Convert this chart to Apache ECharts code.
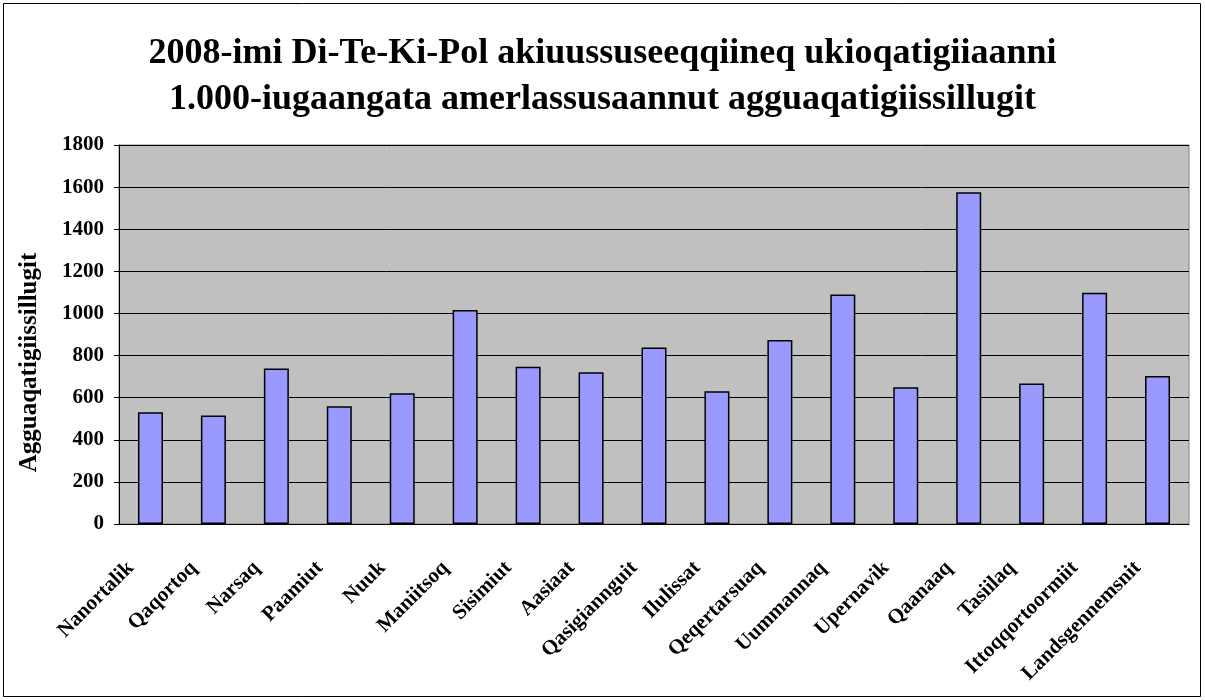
<!DOCTYPE html>
<html>
<head>
<meta charset="utf-8">
<script src="https://cdn.jsdelivr.net/npm/echarts@6/dist/echarts.min.js"></script>
<style>
  html, body { margin: 0; padding: 0; background: #fff; }
  #chart { width: 1205px; height: 700px; }
</style>
</head>
<body>
<div id="chart"></div>
<script>
// byer / kategorier
const places = [
  'Nanortalik', 'Qaqortoq', 'Narsaq', 'Paamiut', 'Nuuk', 'Maniitsoq',
  'Sisimiut', 'Aasiaat', 'Qasigiannguit', 'Ilulissat', 'Qeqertarsuaq',
  'Uummannaq', 'Upernavik', 'Qaanaaq', 'Tasiilaq', 'Ittoqqortoormiit',
  'Landsgennemsnit'
]
// agguaqatigiissillugit pr. 1.000
const rates = [531, 515, 738, 559, 621, 1016, 747, 721, 838, 631, 874, 1090, 650, 1576, 667, 1098, 703]
const yTicks = { min: 0, max: 1800, interval: 200 }

const titleLines = [
  '2008-imi Di-Te-Ki-Pol akiuussuseeqqiineq ukioqatigiiaanni',
  '1.000-iugaangata amerlassusaannut agguaqatigiissillugit'
]
const yName = 'Agguaqatigiissillugit'

const serif = '"Liberation Serif", "Times New Roman", serif'

const chart = echarts.init(document.getElementById('chart'))

chart.setOption({
  animation: false,
  backgroundColor: '#fff',
  graphic: [
    {
      type: 'rect',
      shape: { x: 3.5, y: 3.5, width: 1197, height: 693 },
      style: { fill: 'none', stroke: '#000', lineWidth: 1 },
      silent: true
    }
  ],
  title: {
    text: titleLines.join('\n'),
    left: 'center',
    top: 26,
    padding: [5, 25, 5, 5],
    textStyle: {
      fontFamily: serif,
      fontWeight: 'bold',
      fontSize: 36,
      lineHeight: 46,
      color: '#000'
    }
  },
  grid: {
    left: 119,
    right: 16,
    top: 145,
    height: 379,
    show: true,
    backgroundColor: '#C0C0C0',
    borderColor: '#808080',
    borderWidth: 1
  },
  xAxis: {
    type: 'category',
    data: places,
    axisLine: { lineStyle: { color: '#000', width: 1 } },
    axisTick: { length: 5, lineStyle: { color: '#000' } },
    axisLabel: {
      rotate: 45,
      margin: 21,
      interval: 0,
      padding: [6, 28, 0, 0],
      fontFamily: serif,
      fontWeight: 'bold',
      fontSize: 21,
      color: '#000'
    }
  },
  yAxis: {
    type: 'value',
    min: yTicks.min,
    max: yTicks.max,
    interval: yTicks.interval,
    name: yName,
    nameLocation: 'middle',
    nameGap: 77,
    nameTextStyle: {
      fontFamily: serif,
      fontWeight: 'bold',
      fontSize: 25,
      color: '#000',
      padding: [0, 56, 0, 0]
    },
    axisLine: { show: true, lineStyle: { color: '#000', width: 1 } },
    axisTick: { show: true, length: 5, lineStyle: { color: '#000' } },
    axisLabel: {
      margin: 15,
      formatter: v => String(v),
      fontFamily: serif,
      fontWeight: 'bold',
      fontSize: 21,
      color: '#000'
    },
    splitLine: { lineStyle: { color: '#000', width: 1 } }
  },
  series: [
    {
      type: 'bar',
      data: rates,
      barWidth: 25,
      itemStyle: {
        color: '#9999FF',
        borderColor: '#000',
        borderWidth: 1.5
      }
    }
  ]
})
</script>
</body>
</html>
